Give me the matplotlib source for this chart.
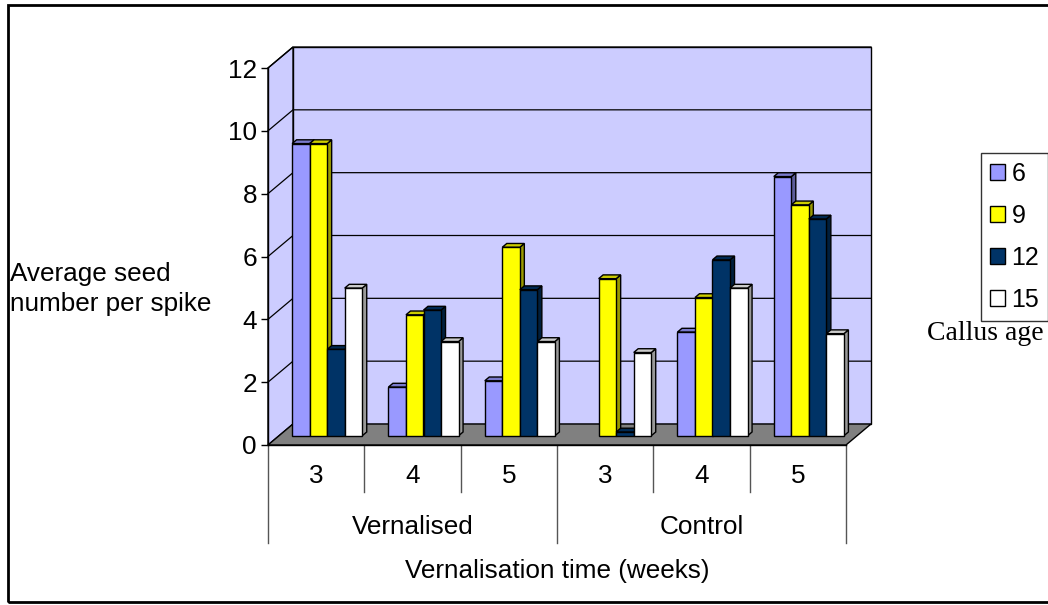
import matplotlib
matplotlib.use("Agg")
import matplotlib.pyplot as plt
import matplotlib.patches as patches
from matplotlib.colors import to_rgb
import numpy as np

plt.rcParams['font.family'] = ['Liberation Sans', 'DejaVu Sans']

weeks = ['3', '4', '5', '3', '4', '5']
groups = ['Vernalised', 'Control']
callus_ages = ['6', '9', '12', '15']
seeds_6 = [9.3, 1.55, 1.75, 0.0, 3.3, 8.25]
seeds_9 = [9.3, 3.85, 6.0, 5.0, 4.4, 7.35]
seeds_12 = [2.75, 4.0, 4.65, 0.12, 5.6, 6.9]
seeds_15 = [4.7, 3.0, 3.0, 2.65, 4.7, 3.25]
series = [seeds_6, seeds_9, seeds_12, seeds_15]
colors = ['#9999FF', '#FFFF00', '#003366', '#FFFFFF']

W, H = 1048, 605
FS = 18.8
fig = plt.figure(figsize=(W / 100, H / 100), dpi=100)
# front plane of the 3d box, in pixels
x0, x1, ytop, ybot = 268, 846, 68, 445
ax = fig.add_axes([x0 / W, 1 - ybot / H, (x1 - x0) / W, (ybot - ytop) / H])
ax.set_facecolor('none')
ncat = len(weeks)
ax.set_xlim(0, ncat)
ax.set_ylim(0, 12)
DX = 25 / (x1 - x0) * ncat   # depth offset, data units
DY = 21 / (ybot - ytop) * 12

wall = '#CCCCFF'
ax.add_patch(patches.Polygon([(DX, DY), (ncat + DX, DY), (ncat + DX, 12 + DY), (DX, 12 + DY)],
                             closed=True, fc=wall, ec='black', lw=1, clip_on=False, zorder=1))
ax.add_patch(patches.Polygon([(0, 0), (0, 12), (DX, 12 + DY), (DX, DY)],
                             closed=True, fc=wall, ec='black', lw=1, clip_on=False, zorder=1))
for k in range(2, 13, 2):
    ax.plot([0, DX, ncat + DX], [k, k + DY, k + DY], color='black', lw=0.9,
            clip_on=False, zorder=2)
ax.add_patch(patches.Polygon([(0, 0), (ncat, 0), (ncat + DX, DY), (DX, DY)],
                             closed=True, fc='#808080', ec='black', lw=1, clip_on=False, zorder=3))

bw = 0.182
f = 0.44     # depth position of bar fronts
d = 0.18     # bar depth
z = 4
for i in range(ncat):
    for j, vals in enumerate(series):
        v = vals[i]
        if v <= 0:
            continue
        x = i + 0.5 - 2 * bw + j * bw + f * DX
        y = f * DY
        c = np.array(to_rgb(colors[j]))
        side = [(x + bw, y), (x + bw, y + v), (x + bw + d * DX, y + v + d * DY), (x + bw + d * DX, y + d * DY)]
        top = [(x, y + v), (x + bw, y + v), (x + bw + d * DX, y + v + d * DY), (x + d * DX, y + v + d * DY)]
        ax.add_patch(patches.Polygon(side, closed=True, fc=c * 0.6, ec='black', lw=1,
                                     clip_on=False, zorder=z))
        ax.add_patch(patches.Polygon(top, closed=True, fc=c * 0.8, ec='black', lw=1,
                                     clip_on=False, zorder=z))
        ax.bar(x, v, width=bw, bottom=y, align='edge', color=colors[j], edgecolor='black',
               lw=1, clip_on=False, zorder=z + 1)
        z += 2

for s in ['top', 'right', 'bottom']:
    ax.spines[s].set_visible(False)
ax.spines['left'].set_linewidth(1)
ax.set_xticks([])
ax.set_yticks(range(0, 13, 2))
ax.tick_params(axis='y', length=5, width=1, direction='out', pad=3, labelsize=FS)

# category axis
tr = ax.get_xaxis_transform()
ax.plot([0, ncat], [0, 0], color='black', lw=1, clip_on=False, zorder=3)
for b in range(ncat + 1):
    low = -0.26 if b % 3 == 0 else -0.125
    ax.plot([b, b], [0, low], color='#555555', lw=1, transform=tr, clip_on=False)
for i, w in enumerate(weeks):
    ax.text(i + 0.5, -0.082, w, transform=tr, ha='center', va='center', fontsize=FS)
for g, name in enumerate(groups):
    ax.text(g * 3 + 1.5, -0.2175, name, transform=tr, ha='center', va='center', fontsize=FS)

fig.text(557 / W, 1 - 571 / H, 'Vernalisation time (weeks)', ha='center', va='center', fontsize=FS)
fig.text(10 / W, 1 - 289 / H, 'Average seed\nnumber per spike', ha='left', va='center',
         fontsize=FS, linespacing=1.3, multialignment='left')

handles = [patches.Patch(facecolor=c, edgecolor='black', lw=1) for c in colors]
leg = fig.legend(handles, callus_ages, loc='upper left', bbox_to_anchor=(981 / W, 1 - 153 / H),
                 bbox_transform=fig.transFigure, fontsize=18, frameon=True, fancybox=False,
                 handlelength=0.58, handleheight=0.58, handletextpad=0.28, labelspacing=0.72,
                 borderpad=0.36, borderaxespad=0)
leg.get_frame().set_edgecolor('black')
leg.get_frame().set_linewidth(1)
fig.text(985 / W, 1 - 334 / H, 'Callus age', family='Liberation Serif', ha='center',
         va='center', fontsize=20)

fig.add_artist(patches.Rectangle((8 / W, 1 - 602 / H), 1.2, (602 - 5) / H,
                                 transform=fig.transFigure, fill=False, ec='black', lw=2))

fig.savefig('out.png', dpi=100)
